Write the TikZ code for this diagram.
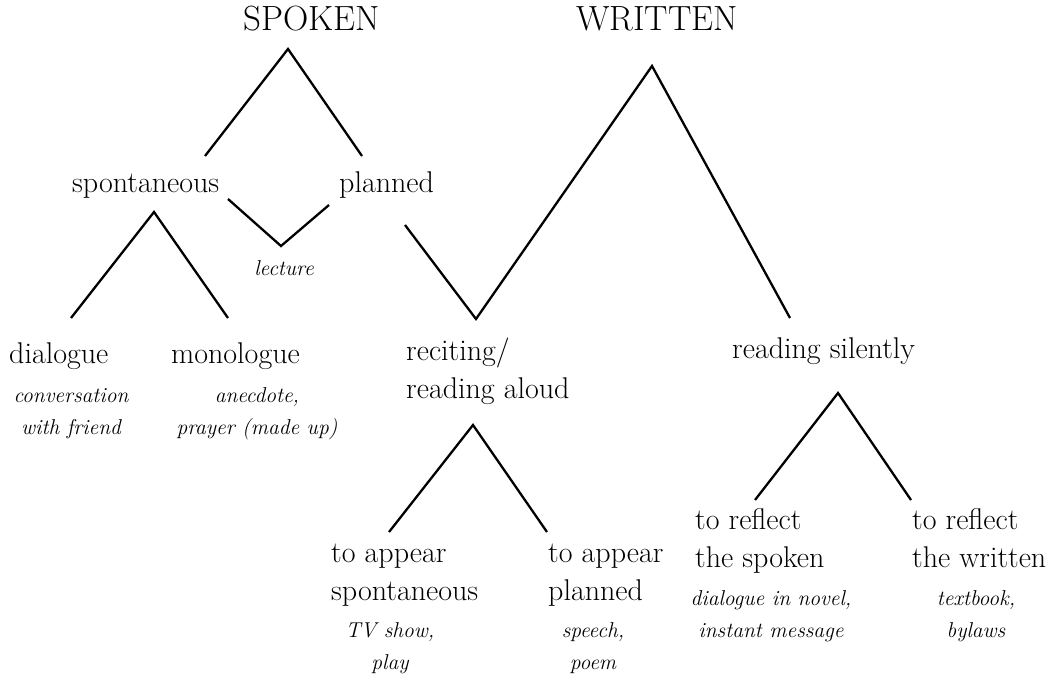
\documentclass[tikz,border=0pt]{standalone}
\usepackage{fontspec}
\begin{document}
\begin{tikzpicture}[x=1pt,y=-1pt,
  lbl/.style={font=\fontsize{30}{38}\selectfont, inner sep=0pt, anchor=base west, align=left},
  ex/.style={font=\itshape\fontsize{21.5}{32}\selectfont, inner sep=0pt, anchor=base, align=center},
  head/.style={font=\fontsize{35}{38}\selectfont, inner sep=0pt, anchor=base west},
  branch/.style={line width=2.3pt, line join=miter, line cap=butt}]
\useasboundingbox (0,0) rectangle (1051,679);

% headings
\node[head] (spoken) at (243,31) {SPOKEN};
\node[head] (written) at (576,31) {WRITTEN};

% spoken branch
\node[lbl] (spont) at (72,193) {spontaneous};
\node[lbl] (planned) at (339,193) {planned};
\node[ex] (lecture) at (284,275) {lecture};
\node[lbl] (dialogue) at (9,363) {dialogue};
\node[lbl] (monologue) at (171,363) {monologue};
\node[ex] (exdia) at (71,434) {conversation\\with friend};
\node[ex] (exmono) at (257,434) {anecdote,\\prayer (made up)};

% written branch
\node[lbl] (reciting) at (406,398) {reciting/\\reading aloud};
\node[lbl] (silent) at (732,358) {reading silently};
\node[lbl] (appspont) at (331,600) {to appear\\spontaneous};
\node[lbl] (appplan) at (548,600) {to appear\\planned};
\node[ex] (exappspont) at (390,669) {TV show,\\play};
\node[ex] (exappplan) at (593,669) {speech,\\poem};
\node[lbl] (refspoken) at (695,567) {to reflect\\the spoken};
\node[lbl] (refwritten) at (912,567) {to reflect\\the written};
\node[ex] (exrefspoken) at (771,637) {dialogue in novel,\\instant message};
\node[ex] (exrefwritten) at (976,637) {textbook,\\bylaws};

% branch points
\coordinate (spokenTop) at (288,49);
\coordinate (spokenL) at (205,156);
\coordinate (spokenR) at (362,156);
\coordinate (spontTop) at (154,212);
\coordinate (spontL) at (71,318);
\coordinate (spontR) at (228,318);
\coordinate (lecA) at (228,199);
\coordinate (lecBottom) at (281,246);
\coordinate (lecB) at (329,205);
\coordinate (planEnd) at (405,225);
\coordinate (recBottom) at (476,319);
\coordinate (writtenTop) at (652,66);
\coordinate (silentEnd) at (790,318);
\coordinate (recTop) at (473,425);
\coordinate (recL) at (389,532);
\coordinate (recR) at (547,532);
\coordinate (silTop) at (838,393);
\coordinate (silL) at (755,500);
\coordinate (silR) at (911,500);

% connectors
\draw[branch] (spokenL) -- (spokenTop) -- (spokenR);
\draw[branch] (spontL) -- (spontTop) -- (spontR);
\draw[branch] (lecA) -- (lecBottom) -- (lecB);
\draw[branch] (planEnd) -- (recBottom) -- (writtenTop) -- (silentEnd);
\draw[branch] (recL) -- (recTop) -- (recR);
\draw[branch] (silL) -- (silTop) -- (silR);
\end{tikzpicture}
\end{document}
